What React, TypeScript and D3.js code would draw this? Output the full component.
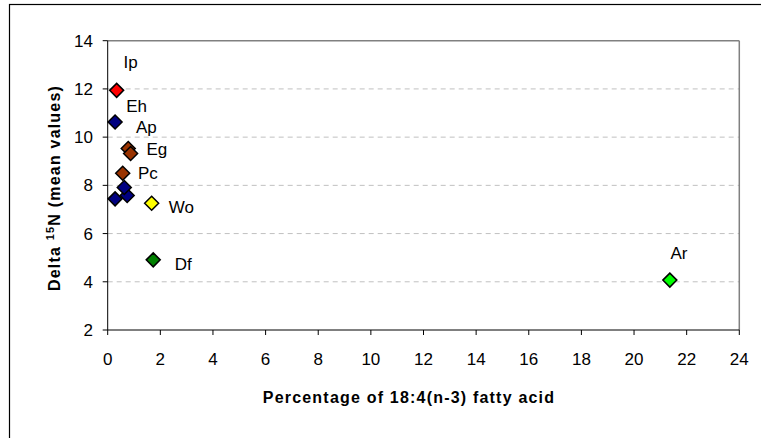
import React from "react";
import * as d3 from "d3";

const xValues = [0.34, 0.28, 0.78, 0.87, 0.57, 0.74, 0.63, 0.28, 1.67, 1.73, 21.36];
const yValues = [11.94, 10.63, 9.53, 9.32, 8.5, 7.58, 7.91, 7.44, 7.26, 4.91, 4.07];
const pointColors = ["#FF0000", "#000080", "#993300", "#993300", "#993300", "#000080", "#000080", "#000080", "#FFFF00", "#008000", "#00FF00"];

const labelNames = ["Ip", "Eh", "Ap", "Eg", "Pc", "Wo", "Df", "Ar"];
const labelX = [0.87, 1.1, 1.47, 1.87, 1.53, 2.8, 2.87, 21.71];
const labelY = [13.1, 11.3, 10.4, 9.5, 8.5, 7.1, 4.75, 5.19];

const xTicks = [0, 2, 4, 6, 8, 10, 12, 14, 16, 18, 20, 22, 24];
const yTicks = [2, 4, 6, 8, 10, 12, 14];

export default function App() {
  const W = 761, H = 438;
  const left = 107.7, right = 739.3, top = 40.7, bottom = 330;
  const x = d3.scaleLinear().domain([0, 24]).range([left, right]);
  const y = d3.scaleLinear().domain([2, 14]).range([bottom, top]);
  const font = "'Liberation Sans', Arial, sans-serif";
  const r = 7;
  const diamond = (cx: number, cy: number) => `M${cx},${cy - r}L${cx + r},${cy}L${cx},${cy + r}L${cx - r},${cy}Z`;

  return (
    <svg width={W} height={H} style={{ position: "absolute", left: 0, top: 0, background: "#fff" }} fontFamily={font}>
      <rect x={9.5} y={4.5} width={W} height={H} fill="#fff" stroke="#000" strokeWidth={1.2} />
      {yTicks.filter(t => t > 2 && t < 14).map(t => (
        <line key={"g" + t} x1={left} x2={right} y1={y(t)} y2={y(t)} stroke="#c0c0c0" strokeDasharray="5,4" />
      ))}
      <line x1={left} x2={right} y1={top} y2={top} stroke="#808080" strokeWidth={1.5} />
      <line x1={right} x2={right} y1={top} y2={bottom} stroke="#808080" strokeWidth={1.5} />
      <line x1={left} x2={left} y1={top} y2={bottom} stroke="#000" />
      <line x1={left} x2={right} y1={bottom} y2={bottom} stroke="#000" />
      {yTicks.map(t => (
        <g key={"y" + t}>
          <line x1={left - 5} x2={left} y1={y(t)} y2={y(t)} stroke="#000" />
          <text x={93} y={y(t)} dy="0.35em" textAnchor="end" fontSize={17}>{t}</text>
        </g>
      ))}
      {xTicks.map(t => (
        <g key={"x" + t}>
          <line x1={x(t)} x2={x(t)} y1={bottom} y2={bottom + 5} stroke="#000" />
          <text x={x(t)} y={359.5} dy="0.35em" textAnchor="middle" fontSize={17}>{t}</text>
        </g>
      ))}
      {xValues.map((v, i) => (
        <path key={"p" + i} d={diamond(x(v), y(yValues[i]))} fill={pointColors[i]} stroke="#000" strokeWidth={1.5} />
      ))}
      {labelNames.map((n, i) => (
        <text key={"l" + n} x={x(labelX[i])} y={y(labelY[i])} dy="0.35em" textAnchor="middle" fontSize={17}>{n}</text>
      ))}
      <text x={409} y={397} dy="0.35em" textAnchor="middle" fontSize={16} fontWeight="bold" letterSpacing={1.2}>Percentage of 18:4(n-3) fatty acid</text>
      <text transform={`translate(54,188) rotate(-90)`} dy="0.35em" textAnchor="middle" fontSize={16} fontWeight="bold" letterSpacing={1.2}>
        Delta <tspan baselineShift="super" fontSize={11}>15</tspan>N (mean values)
      </text>
    </svg>
  );
}
